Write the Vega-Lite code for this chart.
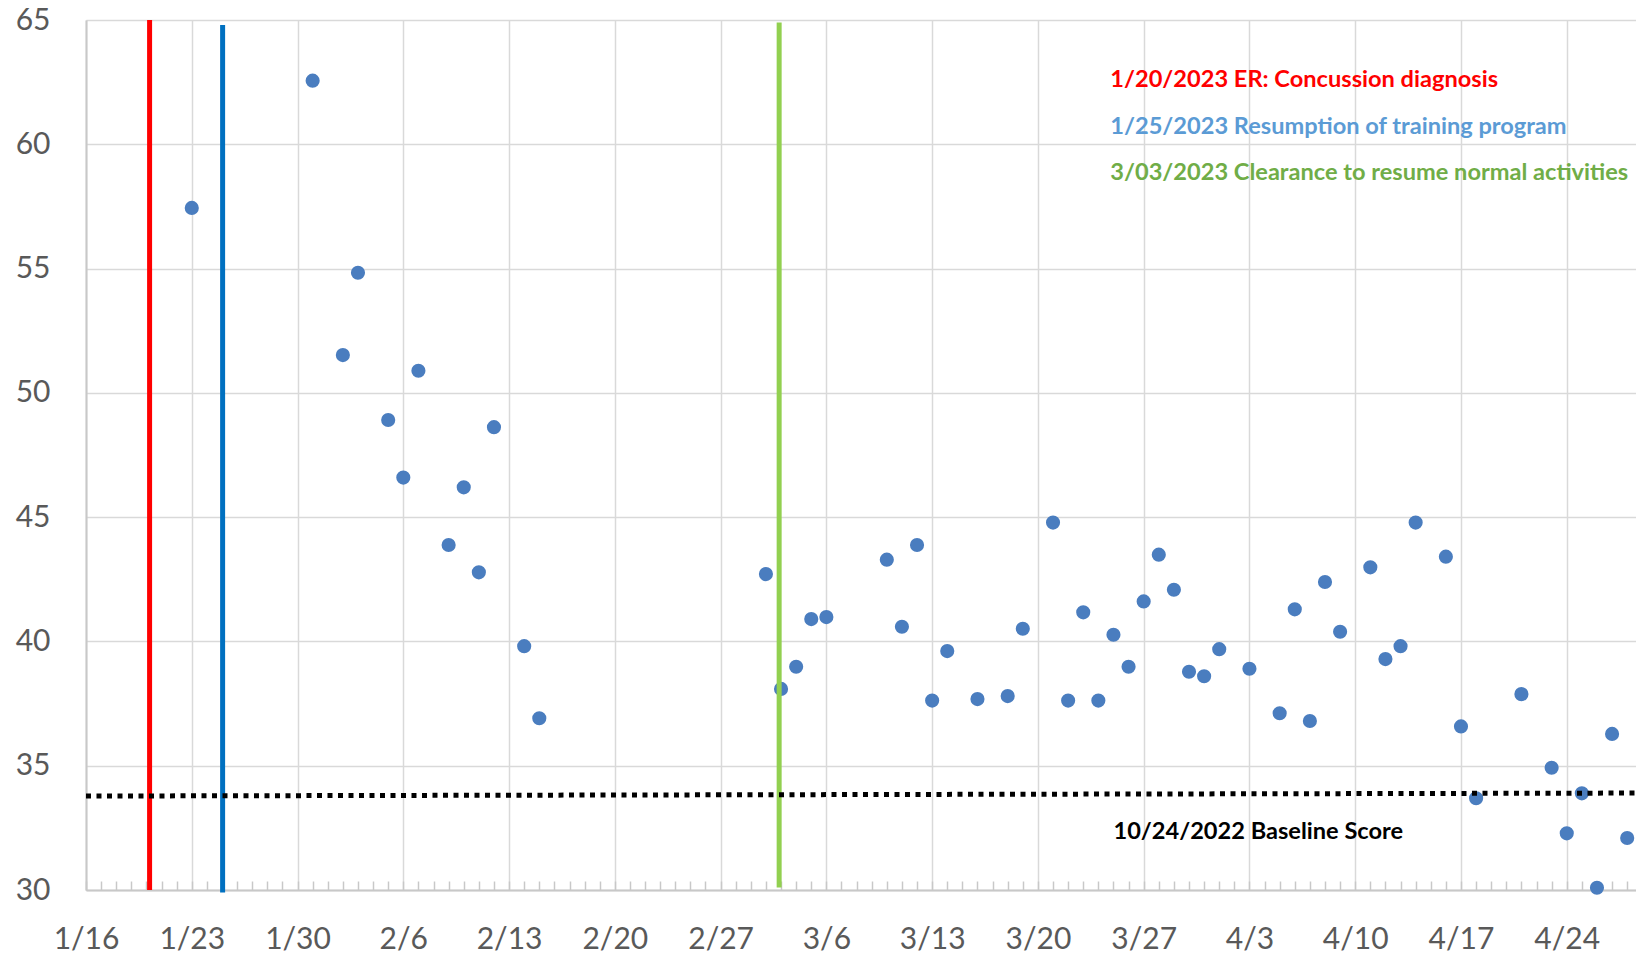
{
  "$schema": "https://vega.github.io/schema/vega-lite/v6.json",
  "width": 1550,
  "height": 870,
  "autosize": {"type": "none"},
  "padding": {"left": 86, "top": 20, "right": 0, "bottom": 67},
  "background": "white",
  "config": {
    "view": {"stroke": null},
    "font": "Lato"
  },
  "datasets": {
    "scores": [
      {"date": "2023-01-23", "score": 57.44},
      {"date": "2023-01-31", "score": 62.56},
      {"date": "2023-02-02", "score": 51.52},
      {"date": "2023-02-03", "score": 54.83},
      {"date": "2023-02-05", "score": 48.91},
      {"date": "2023-02-06", "score": 46.59},
      {"date": "2023-02-07", "score": 50.89},
      {"date": "2023-02-09", "score": 43.88},
      {"date": "2023-02-10", "score": 46.2},
      {"date": "2023-02-11", "score": 42.78},
      {"date": "2023-02-12", "score": 48.62},
      {"date": "2023-02-14", "score": 39.81},
      {"date": "2023-02-15", "score": 36.91},
      {"date": "2023-03-02", "score": 42.71},
      {"date": "2023-03-03", "score": 38.09},
      {"date": "2023-03-04", "score": 38.98},
      {"date": "2023-03-05", "score": 40.9},
      {"date": "2023-03-06", "score": 40.98},
      {"date": "2023-03-10", "score": 43.29},
      {"date": "2023-03-11", "score": 40.59},
      {"date": "2023-03-12", "score": 43.88},
      {"date": "2023-03-13", "score": 37.62},
      {"date": "2023-03-14", "score": 39.61},
      {"date": "2023-03-16", "score": 37.68},
      {"date": "2023-03-18", "score": 37.8},
      {"date": "2023-03-19", "score": 40.51},
      {"date": "2023-03-21", "score": 44.78},
      {"date": "2023-03-22", "score": 37.62},
      {"date": "2023-03-23", "score": 41.17},
      {"date": "2023-03-24", "score": 37.62},
      {"date": "2023-03-25", "score": 40.27},
      {"date": "2023-03-26", "score": 38.98},
      {"date": "2023-03-27", "score": 41.61},
      {"date": "2023-03-28", "score": 43.49},
      {"date": "2023-03-29", "score": 42.08},
      {"date": "2023-03-30", "score": 38.78},
      {"date": "2023-03-31", "score": 38.6},
      {"date": "2023-04-01", "score": 39.69},
      {"date": "2023-04-03", "score": 38.9},
      {"date": "2023-04-05", "score": 37.11},
      {"date": "2023-04-06", "score": 41.29},
      {"date": "2023-04-07", "score": 36.8},
      {"date": "2023-04-08", "score": 42.39},
      {"date": "2023-04-09", "score": 40.39},
      {"date": "2023-04-11", "score": 42.98},
      {"date": "2023-04-12", "score": 39.29},
      {"date": "2023-04-13", "score": 39.81},
      {"date": "2023-04-14", "score": 44.78},
      {"date": "2023-04-16", "score": 43.41},
      {"date": "2023-04-17", "score": 36.58},
      {"date": "2023-04-18", "score": 33.69},
      {"date": "2023-04-21", "score": 37.88},
      {"date": "2023-04-23", "score": 34.92},
      {"date": "2023-04-24", "score": 32.28},
      {"date": "2023-04-25", "score": 33.89},
      {"date": "2023-04-26", "score": 30.09},
      {"date": "2023-04-27", "score": 36.28},
      {"date": "2023-04-28", "score": 32.09}
    ],
    "events": [
      {"date": "2023-01-20T05:00:00Z", "event": "ER: Concussion diagnosis", "top": 65},
      {"date": "2023-01-25T01:00:00Z", "event": "Resumption of training program", "top": 64.8},
      {"date": "2023-03-02T21:00:00Z", "event": "Clearance to resume normal activities", "top": 64.9}
    ]
  },
  "layer": [
    {
      "data": {"name": "scores"},
      "mark": {"type": "point", "filled": true, "opacity": 1, "size": 200, "color": "#4a7dbf", "clip": false},
      "encoding": {
        "x": {
          "field": "date", "type": "temporal",
          "scale": {"type": "utc", "domain": [{"year": 2023, "month": 1, "date": 16, "utc": true}, {"year": 2023, "month": 4, "date": 28, "hours": 14, "utc": true}], "nice": false},
          "axis": {
            "title": null,
            "tickCount": {"interval": "day", "step": 1},
            "labelExpr": "utcday(datum.value) == 1 ? utcFormat(datum.value, '%-m/%-d') : ''",
            "labelOverlap": false,
            "labelFont": "Lato",
            "labelFontSize": 30,
            "labelColor": "#595959",
            "labelPadding": 43,
            "labelFlush": false,
            "ticks": true,
            "tickSize": -9,
            "tickColor": "#c8c8c8",
            "tickWidth": 1.5,
            "domainColor": "#c8c8c8",
            "domainWidth": 2,
            "grid": true,
            "gridColor": "#d9d9d9",
            "gridWidth": 1.5,
            "gridOpacity": {"condition": {"test": "utcday(datum.value) == 1", "value": 1}, "value": 0}
          }
        },
        "y": {
          "field": "score", "type": "quantitative",
          "scale": {"domain": [30, 65], "nice": false, "zero": false},
          "axis": {
            "title": null,
            "values": [30, 35, 40, 45, 50, 55, 60, 65],
            "labelFont": "Lato",
            "labelFontSize": 30,
            "labelColor": "#595959",
            "labelPadding": 36,
            "ticks": false,
            "domainColor": "#c8c8c8",
            "domainWidth": 2,
            "grid": true,
            "gridColor": "#d9d9d9",
            "gridWidth": 1.5
          }
        }
      }
    },
    {
      "data": {"name": "events"},
      "transform": [{"filter": "datum.event == 'ER: Concussion diagnosis'"}],
      "mark": {"type": "rule", "color": "#ff0000", "strokeWidth": 5},
      "encoding": {
        "x": {"field": "date", "type": "temporal"},
        "y": {"field": "top", "type": "quantitative"},
        "y2": {"datum": 30}
      }
    },
    {
      "data": {"name": "events"},
      "transform": [{"filter": "datum.event == 'Resumption of training program'"}],
      "mark": {"type": "rule", "color": "#0070c0", "strokeWidth": 5},
      "encoding": {
        "x": {"field": "date", "type": "temporal"},
        "y": {"field": "top", "type": "quantitative"},
        "y2": {"datum": 29.9}
      }
    },
    {
      "data": {"name": "events"},
      "transform": [{"filter": "datum.event == 'Clearance to resume normal activities'"}],
      "mark": {"type": "rule", "color": "#92d050", "strokeWidth": 5},
      "encoding": {
        "x": {"field": "date", "type": "temporal"},
        "y": {"field": "top", "type": "quantitative"},
        "y2": {"datum": 30.1}
      }
    },
    {
      "data": {"values": [{}]},
      "mark": {"type": "rule", "color": "#000000", "strokeWidth": 5, "strokeDash": [5, 5.5]},
      "encoding": {
        "x": {"datum": {"year": 2023, "month": 1, "date": 16, "utc": true}, "type": "temporal"},
        "x2": {"datum": {"year": 2023, "month": 4, "date": 28, "hours": 14, "utc": true}},
        "y": {"datum": 33.78, "type": "quantitative"},
        "y2": {"datum": 33.9}
      }
    },
    {
      "data": {"values": [{}]},
      "mark": {"type": "text", "text": "1/20/2023 ER: Concussion diagnosis", "align": "left", "baseline": "middle", "font": "Lato", "fontWeight": "bold", "fontSize": 23.6, "color": "#ff0000"},
      "encoding": {
        "x": {"datum": {"year": 2023, "month": 3, "date": 24, "hours": 19, "utc": true}, "type": "temporal"},
        "y": {"datum": 62.58, "type": "quantitative"}
      }
    },
    {
      "data": {"values": [{}]},
      "mark": {"type": "text", "text": "1/25/2023 Resumption of training program", "align": "left", "baseline": "middle", "font": "Lato", "fontWeight": "bold", "fontSize": 23.6, "color": "#5b9bd5"},
      "encoding": {
        "x": {"datum": {"year": 2023, "month": 3, "date": 24, "hours": 19, "utc": true}, "type": "temporal"},
        "y": {"datum": 60.69, "type": "quantitative"}
      }
    },
    {
      "data": {"values": [{}]},
      "mark": {"type": "text", "text": "3/03/2023 Clearance to resume normal activities", "align": "left", "baseline": "middle", "font": "Lato", "fontWeight": "bold", "fontSize": 23.6, "color": "#70ad47"},
      "encoding": {
        "x": {"datum": {"year": 2023, "month": 3, "date": 24, "hours": 19, "utc": true}, "type": "temporal"},
        "y": {"datum": 58.84, "type": "quantitative"}
      }
    },
    {
      "data": {"values": [{}]},
      "mark": {"type": "text", "text": "10/24/2022 Baseline Score", "align": "left", "baseline": "middle", "font": "Lato", "fontWeight": "bold", "fontSize": 23.6, "color": "#000000"},
      "encoding": {
        "x": {"datum": {"year": 2023, "month": 3, "date": 25, "utc": true}, "type": "temporal"},
        "y": {"datum": 32.33, "type": "quantitative"}
      }
    }
  ]
}
